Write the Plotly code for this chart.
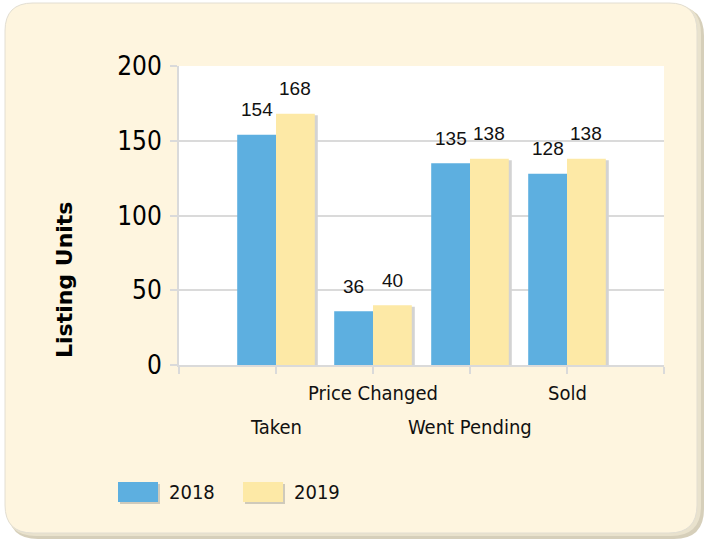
import plotly.graph_objects as go

categories = ["Taken", "Price Changed", "Went Pending", "Sold"]
series_names = ["2018", "2019"]
values_2018 = [154, 36, 135, 128]
values_2019 = [168, 40, 138, 138]
y_ticks = [0, 50, 100, 150, 200]

W, H = 705, 541
ML, MR, MT, MB = 179, 41, 66, 176
PW, PH = W - ML - MR, H - MT - MB

BLUE = "#5DAFE0"
YELLOW = "#FDE9A6"
CREAM = "#FEF5DF"
GRID = "#DADADA"
TICKFONT = "DejaVu Sans Condensed, DejaVu Sans, sans-serif"


def px_x(px):
    return (px - ML) / PW


def px_y(py):
    return (MT + PH - py) / PH


def rounded_path(x0, y0, x1, y1, r):
    def P(x, y):
        return f"{px_x(x):.5f},{px_y(y):.5f}"
    return (f"M {P(x0 + r, y0)} L {P(x1 - r, y0)} Q {P(x1, y0)} {P(x1, y0 + r)} "
            f"L {P(x1, y1 - r)} Q {P(x1, y1)} {P(x1 - r, y1)} "
            f"L {P(x0 + r, y1)} Q {P(x0, y1)} {P(x0, y1 - r)} "
            f"L {P(x0, y0 + r)} Q {P(x0, y0)} {P(x0 + r, y0)} Z")


xs = list(range(1, len(categories) + 1))
bw = 0.4
shadow_dx = 3 / 97

fig = go.Figure()
for vals, off in [(values_2018, -bw), (values_2019, 0.0)]:
    fig.add_trace(go.Bar(x=xs, y=[v - 1 for v in vals], base=0, width=bw,
                         offset=off + shadow_dx, marker=dict(color="#D3D3D3", line=dict(width=0)),
                         showlegend=False, hoverinfo="skip"))
for vals, off, col, name in [(values_2018, -bw, BLUE, series_names[0]),
                             (values_2019, 0.0, YELLOW, series_names[1])]:
    fig.add_trace(go.Bar(x=xs, y=vals, width=bw, offset=off, name=name,
                         marker=dict(color=col, line=dict(width=0)), showlegend=False))

annotations = []
# data labels
for vals, dx in [(values_2018, -bw / 2), (values_2019, bw / 2)]:
    for x, v in zip(xs, vals):
        annotations.append(dict(x=x + dx, y=v, xref="x", yref="y", text=str(v),
                                showarrow=False, yanchor="middle", yshift=25,
                                font=dict(family="Liberation Sans, Arial", size=19, color="#111")))
# category labels, staggered
for i, (x, c) in enumerate(zip(xs, categories)):
    py = 427 if i % 2 == 0 else 393
    annotations.append(dict(x=x, y=px_y(py), xref="x", yref="paper", text=c,
                            showarrow=False, yanchor="middle", xanchor="center",
                            font=dict(family=TICKFONT, size=20, color="#111")))
# y title
annotations.append(dict(x=px_x(64), y=px_y(280), xref="paper", yref="paper",
                        text="<b>Listing Units</b>", textangle=-90, showarrow=False,
                        xanchor="center", yanchor="middle",
                        font=dict(family="DejaVu Sans, sans-serif", size=22, color="#000")))

shapes = [
    dict(type="path", xref="paper", yref="paper", path=rounded_path(8, 6, 704, 539, 30),
         fillcolor="#D6CFBA", line=dict(width=0), layer="below"),
    dict(type="path", xref="paper", yref="paper", path=rounded_path(6, 4, 701, 536, 30),
         fillcolor="#E9E2CD", line=dict(width=0), layer="below"),
    dict(type="path", xref="paper", yref="paper", path=rounded_path(5, 3, 697, 533, 28),
         fillcolor=CREAM, line=dict(color="#E2DED2", width=1), layer="below"),
    dict(type="rect", xref="paper", yref="paper", x0=0, x1=1, y0=0, y1=1,
         fillcolor="white", line=dict(width=0), layer="below"),
]

# legend (manual)
for sx, col, name in zip([118, 243], [BLUE, YELLOW], series_names):
    shapes.append(dict(type="rect", xref="paper", yref="paper",
                       x0=px_x(sx + 2), x1=px_x(sx + 42), y0=px_y(504), y1=px_y(484),
                       fillcolor="#CFCABB", line=dict(width=0), layer="above"))
    shapes.append(dict(type="rect", xref="paper", yref="paper",
                       x0=px_x(sx), x1=px_x(sx + 40), y0=px_y(502), y1=px_y(482),
                       fillcolor=col, line=dict(width=0), layer="above"))
    annotations.append(dict(x=px_x(sx + 49), y=px_y(492), xref="paper", yref="paper",
                            text=name, showarrow=False, xanchor="left", yanchor="middle",
                            font=dict(family=TICKFONT, size=20, color="#111")))

fig.update_layout(
    width=W, height=H,
    margin=dict(l=ML, r=MR, t=MT, b=MB, pad=0),
    paper_bgcolor="white", plot_bgcolor="rgba(0,0,0,0)",
    barmode="overlay",
    showlegend=False,
    shapes=shapes, annotations=annotations,
    xaxis=dict(range=[0, len(categories) + 1], tickvals=list(range(0, len(categories) + 2)),
               showticklabels=False, showgrid=False, zeroline=False,
               showline=True, linecolor=GRID, linewidth=2,
               ticks="outside", ticklen=7, tickcolor=GRID, tickwidth=2, fixedrange=True),
    yaxis=dict(range=[0, 200], tickvals=y_ticks, showgrid=True, gridcolor=GRID, gridwidth=2,
               zeroline=False, showline=True, linecolor=GRID, linewidth=2,
               ticks="outside", ticklen=7, tickcolor=GRID, tickwidth=2,
               ticklabelstandoff=3,
               tickfont=dict(family=TICKFONT, size=26, color="#000"), fixedrange=True),
)

fig.write_html("out.html")
